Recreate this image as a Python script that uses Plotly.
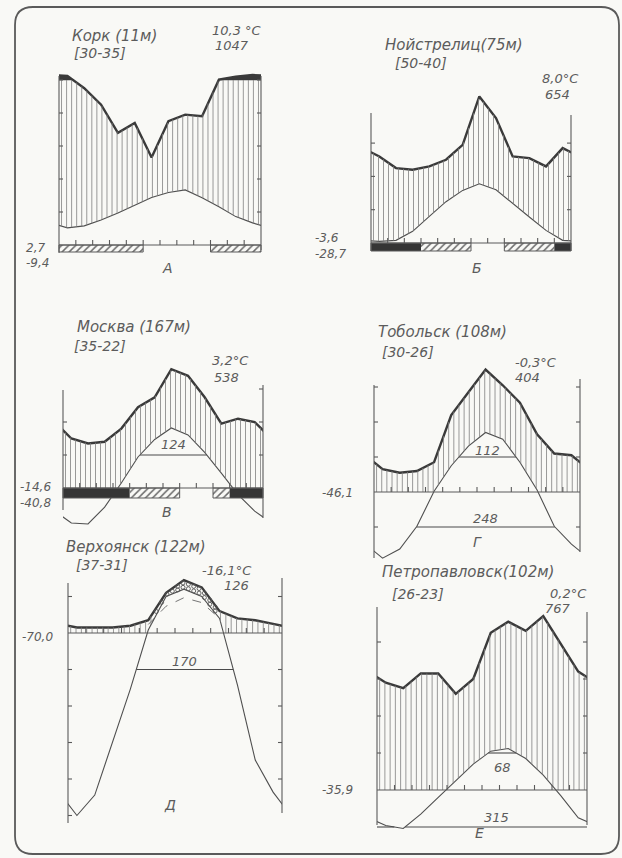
import numpy as np
import plotly.graph_objects as go

W, H = 622, 858

# Monthly means, January .. December (temperature in °C, precipitation in mm)
cork_temp = [5.2, 5.8, 7.6, 9.7, 12.0, 14.4, 15.9, 16.7, 14.3, 11.6, 8.6, 6.7]
cork_prec = [125, 95, 85, 68, 74, 53, 75, 79, 78, 102, 120, 130]
cork_frost = [1, 1, 1, 1, 1, 0, 0, 0, 0, 1, 1, 1]

neustrelitz_temp = [0.5, 0.8, 3.5, 8.0, 12.4, 15.8, 17.8, 16.0, 11.8, 7.8, 3.8, 0.8]
neustrelitz_prec = [52, 45, 44, 46, 50, 59, 88, 75, 52, 51, 46, 57]
neustrelitz_frost = [2, 2, 2, 1, 1, 1, 0, 0, 1, 1, 1, 2]

moscow_temp = [-10.6, -10.9, -5.8, 1.5, 9.4, 14.7, 18.2, 16.1, 10.8, 4.5, -2.0, -7.0]
moscow_prec = [30, 27, 28, 36, 49, 55, 72, 68, 55, 39, 42, 40]
moscow_frost = [2, 2, 2, 2, 1, 1, 1, 0, 0, 1, 2, 2]

tobolsk_temp = [-18.9, -16.3, -9.8, 0.2, 7.5, 13.1, 17.0, 15.1, 8.5, 0.6, -9.8, -14.9]
tobolsk_prec = [13, 11, 12, 17, 44, 57, 70, 61, 51, 33, 22, 21]

verkhoyansk_temp = [-50.0, -44.4, -30.0, -15.3, 0.8, 10.0, 12.0, 10.0, 4.0, -14.2, -34.8, -43.6]
verkhoyansk_prec = [3, 3, 3, 4, 7, 22, 29, 25, 12, 8, 7, 5]

petropavlovsk_temp = [-9.6, -10.4, -6.5, -2.0, 2.5, 7.0, 10.5, 11.2, 8.5, 4.0, -1.5, -7.5]
petropavlovsk_prec = [58, 55, 63, 63, 52, 60, 85, 91, 86, 94, 79, 64]

station_names = ["Корк (11м)", "Нойстрелиц(75м)", "Москва (167м)",
                 "Тобольск (108м)", "Верхоянск (122м)", "Петропавловск(102м)"]
station_years = ["[30-35]", "[50-40]", "[35-22]", "[30-26]", "[37-31]", "[26-23]"]
mean_temp_labels = ["10,3 °C", "8,0°C", "3,2°C", "-0,3°C", "-16,1°C", "0,2°C"]
annual_prec_labels = ["1047", "654", "538", "404", "126", "767"]
low_labels = [["2,7", "-9,4"], ["-3,6", "-28,7"], ["-14,6", "-40,8"],
              ["-46,1"], ["-70,0"], ["-35,9"]]
panel_letters = ["А", "Б", "В", "Г", "Д", "Е"]
# (temperature level, number of days above it)
periods = [[], [], [(10, 124)], [(10, 112), (-10, 248)], [(-10, 170)], [(10, 68), (-10, 315)]]

temps = [cork_temp, neustrelitz_temp, moscow_temp, tobolsk_temp, verkhoyansk_temp, petropavlovsk_temp]
precs = [cork_prec, neustrelitz_prec, moscow_prec, tobolsk_prec, verkhoyansk_prec, petropavlovsk_prec]
frosts = [cork_frost, neustrelitz_frost, moscow_frost, None, None, None]

# Page geometry of each diagram (pixels): axis box, zero line, px per °C,
# vertical axis spans, clipping band, frost bar height and text anchors.
geometry = [
    dict(xl=59, xr=261, y0=245, s=3.3, axl=(76, 253), axr=(76, 250), dom=(60, 262), bar=7,
         name=(70, 36), years=(72, 53), tmean=(210, 30), pann=(213, 46),
         low=(24, [248, 263]), letter=(167, 268), poff=[], dry=False),
    dict(xl=371, xr=571, y0=243, s=3.33, axl=(113, 251), axr=(115, 251), dom=(80, 262), bar=8,
         name=(383, 45), years=(393, 63), tmean=(540, 78), pann=(543, 95),
         low=(313, [238, 254]), letter=(477, 268), poff=[], dry=False),
    dict(xl=63, xr=263, y0=488, s=3.3, axl=(390, 510), axr=(385, 518), dom=(350, 535), bar=10,
         name=(75, 327), years=(72, 346), tmean=(210, 360), pann=(212, 377),
         low=(18, [487, 503]), letter=(167, 512), poff=[-11], dry=False),
    dict(xl=374, xr=580, y0=492, s=3.5, axl=(385, 558), axr=(379, 552), dom=(360, 568), bar=0,
         name=(376, 332), years=(380, 352), tmean=(513, 362), pann=(513, 377),
         low=(320, [493]), letter=(477, 542), poff=[-7, -9], dry=False),
    dict(xl=68, xr=282, y0=633, s=3.65, axl=(583, 823), axr=(578, 813), dom=(565, 835), bar=0,
         name=(64, 547), years=(74, 565), tmean=(200, 570), pann=(222, 585),
         low=(20, [637]), letter=(170, 805), poff=[-8], dry=True),
    dict(xl=377, xr=587, y0=790, s=3.7, axl=(607, 825), axr=(612, 825), dom=(598, 840), bar=0,
         name=(380, 572), years=(390, 594), tmean=(548, 593), pann=(543, 608),
         low=(320, [790]), letter=(480, 833), poff=[14, -10], dry=False),
]

INK = "#3a3a3a"
LINE = "#4f4f4f"
HATCH = "#808080"
TEXT = "#5c5c5c"
FONT = "DejaVu Sans"


def prec_scale(p):
    """10 °C = 20 mm up to 100 mm, above that 1/10 of the scale."""
    return p / 2 if p <= 100 else 50 + (p - 100) / 20


def wrap(v):
    """Close the annual cycle: December before January, January after December."""
    return [v[-1]] + list(v) + [v[0]]


x_ext = np.arange(-0.5, 12.6, 1.0)

fig = go.Figure()
axes_layout = {}
annotations = []


def txt(x, y, s, size=13, anchor="left"):
    annotations.append(dict(x=x / W, y=1 - y / H, xref="paper", yref="paper", text=s,
                            showarrow=False, xanchor=anchor, yanchor="middle",
                            font=dict(family=FONT, size=size, color=TEXT, style="italic")))


def code_runs(codes):
    runs, m = [], 0
    while m < 12:
        if codes[m]:
            a, c = m, codes[m]
            while m < 12 and codes[m] == c:
                m += 1
            runs.append((a, m, c))
        else:
            m += 1
    return runs


for i in range(6):
    g = geometry[i]
    T = temps[i]
    P = precs[i]
    mw = (g["xr"] - g["xl"]) / 12.0
    s = g["s"]
    pad = 10
    km, kf, ky = 2 * i + 1, 2 * i + 2, i + 1
    xm = "x" if km == 1 else f"x{km}"
    xf = f"x{kf}"
    yy = "y" if ky == 1 else f"y{ky}"
    ytop, ybot = g["dom"]
    axes_layout["xaxis" if km == 1 else f"xaxis{km}"] = dict(
        domain=[g["xl"] / W, g["xr"] / W], range=[0, 12], visible=False, anchor=yy)
    axes_layout[f"xaxis{kf}"] = dict(
        domain=[(g["xl"] - pad) / W, (g["xr"] + pad) / W],
        range=[-pad / mw, 12 + pad / mw], visible=False, anchor=yy)
    axes_layout["yaxis" if ky == 1 else f"yaxis{ky}"] = dict(
        domain=[1 - ybot / H, 1 - ytop / H],
        range=[(g["y0"] - ybot) / s, (g["y0"] - ytop) / s], visible=False, anchor=xm)

    pc = [prec_scale(p) for p in P]
    p3 = [p / 3 for p in P]
    pc_ext, t_ext, p3_ext = wrap(pc), wrap(T), wrap(p3)

    # humid season: vertical hatching between precipitation and temperature / zero line
    hx, hy, dx_, dy_ = [], [], [], []
    dot_step = 3.6 / s
    for x in np.arange(0.15, 12.0, 0.3):
        top = float(np.interp(x, x_ext, pc_ext))
        t = float(np.interp(x, x_ext, t_ext))
        q = float(np.interp(x, x_ext, p3_ext))
        if g["dry"] and t > q and t > 0:
            lo, hi = min(t, top), max(t, top)
            n = max(1, int((hi - lo) / dot_step))
            for k in range(n):
                dx_.append(x)
                dy_.append(lo + (k + 0.5) * (hi - lo) / n)
            continue
        top = min(top, 50)
        bot = max(t, 0)
        if top > bot:
            hx += [x, x, None]
            hy += [bot, top, None]
    fig.add_trace(go.Scatter(x=hx, y=hy, mode="lines", xaxis=xf, yaxis=yy,
                             line=dict(color=HATCH, width=0.8), hoverinfo="skip", showlegend=False))
    if dx_:
        fig.add_trace(go.Scatter(x=dx_, y=dy_, mode="markers", xaxis=xf, yaxis=yy,
                                 marker=dict(symbol="circle-open", size=4, color="#555",
                                             line=dict(width=0.9)),
                                 hoverinfo="skip", showlegend=False))

    # precipitation above 100 mm: solid black band on the reduced scale
    if max(pc) > 50:
        pts = []
        for a in range(len(x_ext) - 1):
            x1, x2 = x_ext[a], x_ext[a + 1]
            y1, y2 = pc_ext[a], pc_ext[a + 1]
            pts.append((x1, y1))
            if (y1 - 50) * (y2 - 50) < 0:
                pts.append((x1 + (50 - y1) / (y2 - y1) * (x2 - x1), 50.0))
        pts.append((x_ext[-1], pc_ext[-1]))
        bx, by, run = [], [], []

        def flush(run):
            if len(run) > 1:
                bx.extend([p[0] for p in run] + [run[-1][0], run[0][0], None])
                by.extend([p[1] for p in run] + [50, 50, None])

        for pt in pts:
            if pt[1] >= 50:
                run.append(pt)
            else:
                flush(run)
                run = []
        flush(run)
        fig.add_trace(go.Scatter(x=bx, y=by, mode="lines", xaxis=xm, yaxis=yy, fill="toself",
                                 fillcolor=INK, line=dict(width=0.5, color=INK),
                                 hoverinfo="skip", showlegend=False))

    # 1:3 precipitation curve for the warm months of the dry station
    if g["dry"]:
        warm = [m for m in range(12) if T[m] > 0]
        fig.add_trace(go.Scatter(x=[m + 0.5 for m in warm], y=[p3[m] for m in warm],
                                 mode="lines", xaxis=xm, yaxis=yy,
                                 line=dict(color="#666", width=0.9, dash="dash"),
                                 hoverinfo="skip", showlegend=False))

    # temperature and precipitation curves
    fig.add_trace(go.Scatter(x=x_ext, y=t_ext, mode="lines", xaxis=xm, yaxis=yy,
                             line=dict(color=LINE, width=1.1), hoverinfo="skip", showlegend=False))
    fig.add_trace(go.Scatter(x=x_ext, y=pc_ext, mode="lines", xaxis=xm, yaxis=yy,
                             line=dict(color=INK, width=2.4), hoverinfo="skip", showlegend=False))

    # vertical axes with 10 °C ticks, zero line with month ticks
    lt, lb = (g["y0"] - g["axl"][0]) / s, (g["y0"] - g["axl"][1]) / s
    rt, rb = (g["y0"] - g["axr"][0]) / s, (g["y0"] - g["axr"][1]) / s
    tk = 4 / mw
    ax_x = [0, 0, None, 12, 12, None, 0, 12, None]
    ax_y = [lb, lt, None, rb, rt, None, 0, 0, None]
    for lev in range(-60, 70, 10):
        if lev == 0:
            continue
        if lb + 0.5 < lev < lt - 0.5:
            ax_x += [0, tk, None]
            ax_y += [lev, lev, None]
        if rb + 0.5 < lev < rt - 0.5:
            ax_x += [12 - tk, 12, None]
            ax_y += [lev, lev, None]
    for m in range(1, 12):
        ax_x += [m, m, None]
        ax_y += [0, 5 / s, None]
    fig.add_trace(go.Scatter(x=ax_x, y=ax_y, mode="lines", xaxis=xf, yaxis=yy,
                             line=dict(color="#5a5a5a", width=1.1), hoverinfo="skip", showlegend=False))

    # frost bars under the zero line: hatched = frost possible, black = cold season
    codes = frosts[i]
    if codes:
        h = g["bar"] / s
        for a, b, c in code_runs(codes):
            if c == 1:
                marker = dict(color="rgba(0,0,0,0)", line=dict(width=0),
                              pattern=dict(shape="/", fgcolor="#6a6a6a", bgcolor="rgba(0,0,0,0)",
                                           size=5, solidity=0.3, fillmode="replace"))
            else:
                marker = dict(color="#353535", line=dict(width=0))
            fig.add_trace(go.Bar(x=[(a + b) / 2], y=[h], base=[-h], width=b - a,
                                 xaxis=xf, yaxis=yy, marker=marker,
                                 hoverinfo="skip", showlegend=False))
        ox, oy = [], []
        m = 0
        while m < 12:
            if codes[m]:
                a = m
                while m < 12 and codes[m]:
                    m += 1
                ox += [a, m, m, a, a, None]
                oy += [0, 0, -h, -h, 0, None]
            else:
                m += 1
        fig.add_trace(go.Scatter(x=ox, y=oy, mode="lines", xaxis=xf, yaxis=yy,
                                 line=dict(color="#5a5a5a", width=1), hoverinfo="skip", showlegend=False))

    # periods with temperature above the marked level
    xg = np.linspace(0, 12, 1201)
    tg = np.interp(xg, x_ext, t_ext)
    for (lev, days), off in zip(periods[i], g["poff"]):
        mask = tg > lev
        runs, start = [], None
        for j, flag in enumerate(mask):
            if flag and start is None:
                start = j
            if (not flag or j == len(mask) - 1) and start is not None:
                end = j if flag else j - 1
                runs.append((xg[start], xg[end]))
                start = None
        lx, ly = [], []
        for a, b in runs:
            lx += [a, b, None]
            ly += [lev, lev, None]
        fig.add_trace(go.Scatter(x=lx, y=ly, mode="lines", xaxis=xf, yaxis=yy,
                                 line=dict(color="#4a4a4a", width=1.1), hoverinfo="skip", showlegend=False))
        a, b = max(runs, key=lambda r: r[1] - r[0])
        annotations.append(dict(x=(a + b) / 2, y=lev - off / s, xref=xf, yref=yy, text=str(days),
                                showarrow=False, xanchor="center", yanchor="middle",
                                font=dict(family=FONT, size=13, color=TEXT, style="italic")))

    # captions
    txt(*g["name"], station_names[i], size=15)
    txt(*g["years"], station_years[i], size=14)
    txt(*g["tmean"], mean_temp_labels[i])
    txt(*g["pann"], annual_prec_labels[i])
    lx0, lys = g["low"]
    for lab, ly_ in zip(low_labels[i], lys):
        txt(lx0, ly_, lab, size=12)
    txt(g["letter"][0], g["letter"][1], panel_letters[i], size=14, anchor="center")

# rounded outer frame
L, R, Tp, B, r = 15, 619, 7, 854, 18


def P_(x, y):
    return f"{x / W:.5f},{1 - y / H:.5f}"


frame_path = (f"M {P_(L + r, Tp)} L {P_(R - r, Tp)} Q {P_(R, Tp)} {P_(R, Tp + r)} "
              f"L {P_(R, B - r)} Q {P_(R, B)} {P_(R - r, B)} L {P_(L + r, B)} "
              f"Q {P_(L, B)} {P_(L, B - r)} L {P_(L, Tp + r)} Q {P_(L, Tp)} {P_(L + r, Tp)} Z")

fig.update_layout(
    width=W, height=H, autosize=False,
    margin=dict(l=0, r=0, t=0, b=0),
    paper_bgcolor="#f9f9f6", plot_bgcolor="rgba(0,0,0,0)",
    barmode="overlay", showlegend=False,
    annotations=annotations,
    shapes=[dict(type="path", path=frame_path, xref="paper", yref="paper",
                 line=dict(color="#5a5a5a", width=1.8))],
    **axes_layout,
)

fig.write_html("out.html")
